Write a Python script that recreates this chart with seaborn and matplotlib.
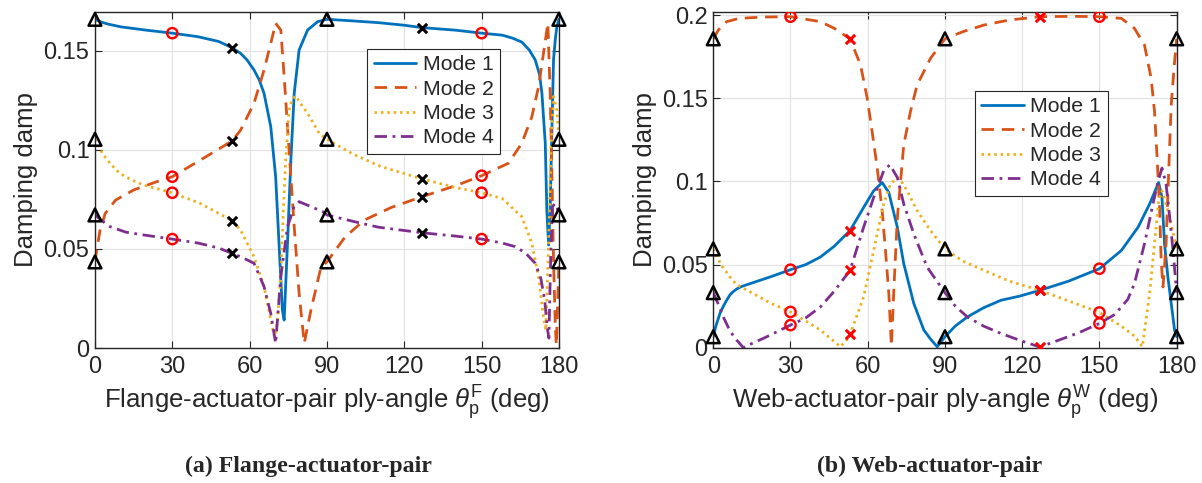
import numpy as np
import pandas as pd
import seaborn as sns
import matplotlib.pyplot as plt

# ---- data ----
# (a) flange-actuator-pair
flange_angle_m1 = [0, 2.5, 5, 10, 20, 30, 40, 48, 53.13, 56.5, 59, 61.7, 63.7, 65.6, 68.2, 70.1, 71.4, 72.7,
                   73.4, 74.7, 76, 77.3, 79.2, 82.5, 86.4, 90, 100, 110, 120, 126.87, 140, 150, 158,
                   162, 165.6, 168.5, 170.8, 172.5, 173.4, 174.7, 175.3, 176, 176.6, 177.3, 177.9, 178.6, 179.2, 180]
flange_damp_m1 = [0.166, 0.1646, 0.1636, 0.1622, 0.1605, 0.159, 0.1572, 0.1548, 0.1517, 0.1488, 0.1455, 0.1404, 0.1355, 0.1286, 0.1118, 0.0865, 0.0529, 0.0192,
                  0.0141, 0.0529, 0.095, 0.1286, 0.1505, 0.1606, 0.1648, 0.166, 0.1652, 0.1643, 0.163, 0.1618, 0.1605, 0.159, 0.158,
                  0.1565, 0.1545, 0.1505, 0.1455, 0.138, 0.1286, 0.1034, 0.0697, 0.052, 0.0697, 0.1118, 0.1455, 0.156, 0.1623, 0.166]

flange_angle_m2 = [0, 1, 2, 4, 8, 15, 24, 30, 41, 47.4, 53.13, 56.5, 61.7, 65.6, 68.8,
                   70.1, 72.1, 73.4, 74.7, 76, 77.3, 79.2, 81.2, 83.8, 87.7, 90, 97, 104.5, 115, 126.87,
                   140, 150, 160.4, 165.6, 169.5, 172.1, 174, 175.7, 176.6, 177.3, 177.9, 178.6, 179, 179.5, 180]
flange_damp_m2 = [0.0435, 0.052, 0.0596, 0.068, 0.0747, 0.0798, 0.084, 0.0865, 0.095, 0.100, 0.1045, 0.110, 0.1236, 0.1404, 0.157,
                  0.164, 0.1606, 0.137, 0.1118, 0.0865, 0.0613, 0.0276, 0.0024, 0.0192, 0.041, 0.0435, 0.056, 0.0646, 0.071, 0.0764,
                  0.082, 0.087, 0.0933, 0.1034, 0.1168, 0.132, 0.1488, 0.164, 0.1286, 0.0865, 0.0444, 0.0108, 0.0015, 0.022, 0.0435]

flange_angle_m3 = [0, 3, 6, 9.7, 14, 18.8, 30, 40.9, 48, 53.13, 56.5, 61.7, 65.6, 68.2, 69.9,
                   71, 72.1, 73.1, 74, 75.3, 76.5, 77.9, 80, 82.5, 87, 90, 100, 111, 126.87, 140,
                   150, 158, 165.6, 169.5, 172.1, 174, 174.9, 176, 177, 177.9, 179.2, 180]
flange_damp_m3 = [0.1054, 0.098, 0.093, 0.0882, 0.085, 0.0823, 0.0784, 0.073, 0.068, 0.0643, 0.0596, 0.0461, 0.031, 0.0141, 0.004,
                  0.018, 0.036, 0.0697, 0.095, 0.12, 0.1255, 0.1273, 0.123, 0.1185, 0.1084, 0.1054, 0.098, 0.0916, 0.0854, 0.081,
                  0.0784, 0.0755, 0.0663, 0.0529, 0.036, 0.0158, 0.009, 0.0529, 0.1034, 0.127, 0.12, 0.1054]

flange_angle_m4 = [0, 3, 5.8, 12, 18.8, 30, 40, 48, 53.13, 56.5, 61.7, 65.6, 68.2, 70.1, 72.1,
                   74.7, 77.3, 79.2, 83.8, 88.3, 90, 100, 110, 126.87, 140, 150, 158, 163, 167, 170.8,
                   173, 174.5, 175.5, 176.1, 176.8, 177.5, 178.5, 179.3, 180]
flange_damp_m4 = [0.0672, 0.064, 0.0613, 0.0585, 0.0571, 0.055, 0.053, 0.0505, 0.0478, 0.0461, 0.0428, 0.031, 0.0175, 0.0024, 0.036,
                  0.0613, 0.0714, 0.0739, 0.0714, 0.0689, 0.0672, 0.064, 0.061, 0.0582, 0.0565, 0.055, 0.053, 0.0512, 0.048, 0.0428,
                  0.035, 0.024, 0.010, 0.005, 0.045, 0.0714, 0.073, 0.071, 0.0672]

# (b) web-actuator-pair
web_angle_m1 = [0, 1, 2.6, 4, 5.2, 6.5, 7.8, 9.3, 11, 15.6, 22, 30, 36, 41.6, 47, 53.13, 58.4, 62.3,
                65.6, 68.2, 71.5, 74, 77.9, 81.8, 84.5, 87, 90, 94, 98.7, 105, 111.7, 119, 126.87,
                138, 150, 158.5, 165, 169.5, 173, 174.3, 175.3, 176.6, 177.9, 179.2, 180]
web_damp_m1 = [0.0066, 0.013, 0.0206, 0.0252, 0.0285, 0.0318, 0.0338, 0.0355, 0.0368, 0.0392, 0.0425, 0.0469, 0.050, 0.0545, 0.061, 0.0704, 0.0843, 0.0943,
               0.0993, 0.0933, 0.0724, 0.0505, 0.0266, 0.0106, 0.005, 0.0006, 0.0066, 0.013, 0.0185, 0.024, 0.0285, 0.031, 0.0345,
               0.040, 0.0475, 0.0584, 0.0724, 0.0864, 0.0993, 0.0903, 0.0624, 0.0425, 0.0266, 0.0106, 0.0066]

web_angle_m2 = [0, 2, 5.2, 10, 20, 30, 41.6, 47, 53.13, 57.2, 59.8, 61.7, 63.7, 65.6, 66.9,
                68.2, 69.2, 70.3, 71.5, 74, 76.6, 79.2, 84.4, 90, 97, 105.2, 115, 126.87, 140, 150,
                158.5, 163.6, 167.5, 170.1, 171.4, 172.5, 173.4, 174, 174.7, 175.9, 176.6, 177.3, 177.9, 179.2, 180]
web_damp_m2 = [0.1857, 0.191, 0.196, 0.198, 0.1988, 0.199, 0.196, 0.192, 0.1857, 0.170, 0.150, 0.130, 0.108, 0.0824, 0.0584,
               0.0325, 0.001, 0.04, 0.078, 0.122, 0.142, 0.158, 0.174, 0.1857, 0.190, 0.194, 0.197, 0.199, 0.1992, 0.199,
               0.198, 0.192, 0.182, 0.162, 0.142, 0.112, 0.0824, 0.0524, 0.0365, 0.0624, 0.0923, 0.122, 0.146, 0.172, 0.1857]

web_angle_m3 = [0, 3, 6.5, 9, 15.6, 22, 30, 36, 41.6, 46, 49.4, 51.5, 53.13, 55.5, 58.4,
                62.3, 66.2, 68.8, 71.5, 73.5, 75.3, 79.2, 84.4, 90, 97, 105.2, 115, 126.87, 140, 150,
                158.5, 163.6, 166.7, 169.5, 171.4, 173, 174.3, 175.9, 177.9, 180]
web_damp_m3 = [0.0594, 0.050, 0.0425, 0.038, 0.0325, 0.027, 0.0215, 0.016, 0.0106, 0.005, 0.0006, 0.004, 0.008, 0.018, 0.0305,
               0.0584, 0.0864, 0.0983, 0.1023, 0.099, 0.0943, 0.0824, 0.0704, 0.0594, 0.052, 0.0465, 0.040, 0.0345, 0.027, 0.0212,
               0.013, 0.007, 0.0006, 0.0325, 0.0624, 0.0883, 0.0943, 0.0864, 0.0744, 0.0594]

web_angle_m4 = [0, 2, 3.9, 6.5, 9.1, 11.7, 15, 20, 30, 36, 41.6, 47, 53.13, 58.4, 62.3,
                66.2, 68.6, 71.5, 74, 77.9, 83.1, 90, 94, 98.7, 105, 111.7, 119, 126.87, 135, 142,
                150, 156, 161, 163.6, 167.5, 170.8, 172.8, 174.3, 175.9, 177.3, 178.6, 180]
web_damp_m4 = [0.0331, 0.026, 0.0185, 0.010, 0.0046, 0.0, 0.0025, 0.006, 0.0136, 0.018, 0.0245, 0.034, 0.0465, 0.0724, 0.0903,
               0.1063, 0.110, 0.1023, 0.0864, 0.0684, 0.0484, 0.0331, 0.025, 0.0185, 0.013, 0.0086, 0.0045, 0.0004, 0.005, 0.009,
               0.0146, 0.02, 0.029, 0.0385, 0.0624, 0.0864, 0.100, 0.108, 0.0983, 0.0784, 0.0584, 0.0331]

mode_labels = ['Mode 1', 'Mode 2', 'Mode 3', 'Mode 4']
triangle_angles = [0, 90, 180]
circle_angles = [30, 150]
cross_angles = [53.13, 126.87]
x_ticks = [0, 30, 60, 90, 120, 150, 180]

colors = ['#0072BD', '#D95319', '#EDB120', '#7E2F8E']
styles = ['-', (0, (4.5, 2.8)), (0, (0.9, 1.4)), (0, (4.5, 2.0, 1.0, 2.0))]

sns.set_style('ticks')
plt.rcParams['font.family'] = ['Liberation Sans', 'DejaVu Sans']
plt.rcParams['mathtext.fontset'] = 'custom'
plt.rcParams['mathtext.rm'] = 'Liberation Sans'
plt.rcParams['mathtext.it'] = 'Liberation Sans:italic'
plt.rcParams['mathtext.bf'] = 'Liberation Sans:bold'


def pick(xs, ys, targets):
    xs = np.asarray(xs)
    ys = np.asarray(ys)
    return [ys[np.argmin(np.abs(xs - t))] for t in targets]


def draw_panel(ax, curves, ymax, yticks, ylabels, xlabel, cross_color, legend_center):
    handles = []
    for i, (xs, ys) in enumerate(curves):
        df = pd.DataFrame({'angle': xs, 'damp': ys})
        sns.lineplot(data=df, x='angle', y='damp', ax=ax, color=colors[i], linewidth=2,
                     linestyle=styles[i], sort=False, estimator=None, label=mode_labels[i],
                     legend=False, zorder=2)
        handles.append(ax.lines[-1])
    for xs, ys in curves:
        sns.scatterplot(x=triangle_angles, y=pick(xs, ys, triangle_angles), ax=ax, marker='^',
                        s=85, linewidth=1.8, zorder=4, legend=False)
        ax.collections[-1].set_facecolor('none')
        ax.collections[-1].set_edgecolor('black')
        ax.collections[-1].set_clip_on(False)
        sns.scatterplot(x=circle_angles, y=pick(xs, ys, circle_angles), ax=ax, marker='o',
                        s=55, linewidth=1.7, zorder=4, legend=False)
        ax.collections[-1].set_facecolor('none')
        ax.collections[-1].set_edgecolor('red')
        sns.scatterplot(x=cross_angles, y=pick(xs, ys, cross_angles), ax=ax, marker='x',
                        s=45, linewidth=2.2, color=cross_color, zorder=4, legend=False)

    ax.set_xlim(0, 180)
    ax.set_ylim(0, ymax)
    ax.set_xticks(x_ticks)
    ax.set_xticklabels([str(t) for t in x_ticks])
    ax.set_yticks(yticks)
    ax.set_yticklabels(ylabels)
    ax.grid(True, color='#e3e3e3', linewidth=0.9)
    ax.set_axisbelow(True)
    for sp in ax.spines.values():
        sp.set_visible(True)
        sp.set_color('#262626')
        sp.set_linewidth(1.0)
    ax.tick_params(direction='in', length=5, width=0.8, colors='#262626', labelsize=17,
                   top=True, right=True, pad=6)
    ax.tick_params(axis='y', pad=4)
    ax.set_xlabel(xlabel, fontsize=18.5, color='#262626')
    ax.set_ylabel('Damping damp', fontsize=18.5, color='#262626')
    ax.xaxis.set_label_coords(0.5, -0.105)
    ax.yaxis.set_label_coords(-0.122, 0.5)
    leg = ax.legend(handles=handles, labels=mode_labels, loc='center',
                    bbox_to_anchor=legend_center, fontsize=15.3, frameon=True, fancybox=False,
                    framealpha=1, edgecolor='#262626', handlelength=2.0, handletextpad=0.3,
                    labelspacing=0.25, borderpad=0.3, borderaxespad=0)
    leg.get_frame().set_linewidth(0.8)


fig = plt.figure(figsize=(12.02, 4.83), dpi=100)
ax_f = fig.add_axes([0.0790, 0.2795, 0.3860, 0.6957])
ax_w = fig.add_axes([0.5934, 0.2801, 0.3855, 0.6957])

draw_panel(ax_f,
           [(flange_angle_m1, flange_damp_m1), (flange_angle_m2, flange_damp_m2),
            (flange_angle_m3, flange_damp_m3), (flange_angle_m4, flange_damp_m4)],
           0.1697, [0, 0.05, 0.1, 0.15], ['0', '0.05', '0.1', '0.15'],
           r'Flange-actuator-pair ply-angle $\theta_{\mathrm{p}}^{\mathrm{F}}$ (deg)',
           'black', (0.73, 0.734))
draw_panel(ax_w,
           [(web_angle_m1, web_damp_m1), (web_angle_m2, web_damp_m2),
            (web_angle_m3, web_damp_m3), (web_angle_m4, web_damp_m4)],
           0.202, [0, 0.05, 0.1, 0.15, 0.2], ['0', '0.05', '0.1', '0.15', '0.2'],
           r'Web-actuator-pair ply-angle $\theta_{\mathrm{p}}^{\mathrm{W}}$ (deg)',
           'red', (0.708, 0.608))

fig.text(0.257, 0.035, '(a) Flange-actuator-pair', ha='center', va='center',
         fontsize=17.2, fontweight='bold', family=['Liberation Serif', 'DejaVu Serif'])
fig.text(0.773, 0.035, '(b) Web-actuator-pair', ha='center', va='center',
         fontsize=17.2, fontweight='bold', family=['Liberation Serif', 'DejaVu Serif'])

fig.savefig('out.png', dpi=100)
